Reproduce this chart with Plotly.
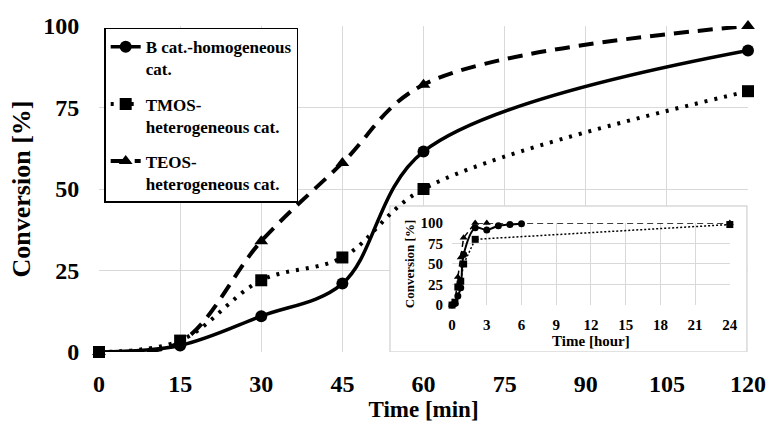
import plotly.graph_objects as go

# ---- main chart data (minutes) ----
time_min = [0, 15, 30, 45, 60, 120]
b_cat = [0, 2, 11, 21, 61.5, 92.5]
tmos = [0, 3.5, 22, 29, 50, 80]
teos = [0, 3, 34, 58, 82, 100]

# ---- inset data (hours) ----
b_hours = [0, 0.25, 0.5, 0.75, 1, 2, 3, 4, 5, 6]
b_inset = [0, 2, 11, 21, 61.5, 94, 91.5, 96.5, 98, 99]
tmos_hours = [0, 0.25, 0.5, 0.75, 1, 2, 24]
tmos_inset = [0, 3.5, 22, 29, 50, 80, 98]
teos_hours = [0, 0.25, 0.5, 0.75, 1, 2, 3, 24]
teos_inset = [0, 3, 34, 58, 82, 100, 100, 100]

x_ticks = [0, 15, 30, 45, 60, 75, 90, 105, 120]
y_ticks = [0, 25, 50, 75, 100]
inset_x_ticks = [0, 3, 6, 9, 12, 15, 18, 21, 24]

FONT = '"Liberation Serif", "Times New Roman", Times, serif'
GRID = "#d9d9d9"

fig = go.Figure()

fig.add_trace(go.Scatter(
    x=time_min, y=b_cat, name="<b>B cat.-homogeneous<br>cat.</b>", legendgroup="a",
    mode="lines+markers", line=dict(color="black", width=3.5, shape="spline"),
    marker=dict(symbol="circle", size=12, color="black"), cliponaxis=False))
fig.add_trace(go.Scatter(
    x=time_min, y=tmos, name="<b>TMOS-<br>heterogeneous cat.</b>", legendgroup="b",
    mode="lines+markers", line=dict(color="black", width=4, shape="spline", dash="3px,7px"),
    marker=dict(symbol="square", size=12, color="black"), cliponaxis=False))
fig.add_trace(go.Scatter(
    x=time_min, y=teos, name="<b>TEOS-<br>heterogeneous cat.</b>", legendgroup="c",
    mode="lines+markers", line=dict(color="black", width=4, shape="spline", dash="15px,9px"),
    marker=dict(symbol="triangle-up", size=12, color="black"), cliponaxis=False))

# inset traces
fig.add_trace(go.Scatter(
    x=b_hours, y=b_inset, xaxis="x2", yaxis="y2", showlegend=False,
    mode="lines+markers", line=dict(color="black", width=2, shape="spline"),
    marker=dict(symbol="circle", size=7, color="black"), cliponaxis=False))
fig.add_trace(go.Scatter(
    x=tmos_hours, y=tmos_inset, xaxis="x2", yaxis="y2", showlegend=False,
    mode="lines+markers", line=dict(color="black", width=1.5, shape="linear", dash="2px,2px"),
    marker=dict(symbol="square", size=7, color="black"), cliponaxis=False))
fig.add_trace(go.Scatter(
    x=teos_hours, y=teos_inset, xaxis="x2", yaxis="y2", showlegend=False,
    mode="lines+markers", line=dict(color="black", width=1.5, shape="linear", dash="6px,4px"),
    marker=dict(symbol="triangle-up", size=7, color="black"), cliponaxis=False))

fig.update_layout(
    width=766, height=424,
    margin=dict(l=99, r=18, t=26, b=72),
    paper_bgcolor="white", plot_bgcolor="white",
    font=dict(family=FONT, color="black"),
    xaxis=dict(
        domain=[0, 1], range=[0, 120], tickvals=x_ticks,
        ticktext=[f"<b>{v}</b>" for v in x_ticks], automargin=False,
        tickfont=dict(size=24, family=FONT), showgrid=True, gridcolor=GRID, gridwidth=1,
        zeroline=False, showline=False, ticks="outside", ticklen=10,
        tickcolor="rgba(0,0,0,0)",
        title=dict(text="<b>Time [min]</b>", font=dict(size=23, family=FONT), standoff=2),
    ),
    yaxis=dict(
        domain=[0, 1], range=[0, 100], tickvals=y_ticks,
        ticktext=[f"<b>{v}</b>" for v in y_ticks], automargin=False,
        tickfont=dict(size=24, family=FONT), showgrid=True, gridcolor=GRID, gridwidth=1,
        zeroline=False, showline=False, ticks="outside", ticklen=14,
        tickcolor="rgba(0,0,0,0)",
        title=dict(text="<b>Conversion [%]</b>", font=dict(size=26, family=FONT), standoff=5),
    ),
    xaxis2=dict(
        domain=[0.544, 0.972], anchor="y2", range=[0, 24], tickvals=inset_x_ticks,
        ticktext=[f"<b>{v}</b>" for v in inset_x_ticks], automargin=False,
        tickfont=dict(size=15, family=FONT), showgrid=True, gridcolor=GRID, gridwidth=1,
        zeroline=False, showline=False, ticks="outside", ticklen=6,
        tickcolor="rgba(0,0,0,0)",
        title=dict(text="<b>Time [hour]</b>", font=dict(size=15, family=FONT), standoff=0),
    ),
    yaxis2=dict(
        domain=[0.144, 0.396], anchor="x2", range=[0, 100], tickvals=y_ticks,
        ticktext=[f"<b>{v}</b>" for v in y_ticks], automargin=False,
        tickfont=dict(size=15, family=FONT), showgrid=True, gridcolor=GRID, gridwidth=1,
        zeroline=False, showline=False, ticks="outside", ticklen=5,
        tickcolor="rgba(0,0,0,0)",
        title=dict(text="<b>Conversion [%]</b>", font=dict(size=13, family=FONT), standoff=2),
    ),
    legend=dict(
        x=0.008, y=0.995, xanchor="left", yanchor="top",
        bgcolor="white", bordercolor="black", borderwidth=1.5,
        font=dict(size=17, family=FONT), valign="top",
        tracegroupgap=10, itemwidth=30,
    ),
    shapes=[dict(
        type="rect", xref="x", yref="y", x0=53.8, x1=119.8, y0=0, y1=44.8,
        fillcolor="white", line=dict(color=GRID, width=1.5), layer="between",
    )],
)

fig.write_html("out.html", config={"displayModeBar": False},
               post_script="document.body.style.margin='0px';")
